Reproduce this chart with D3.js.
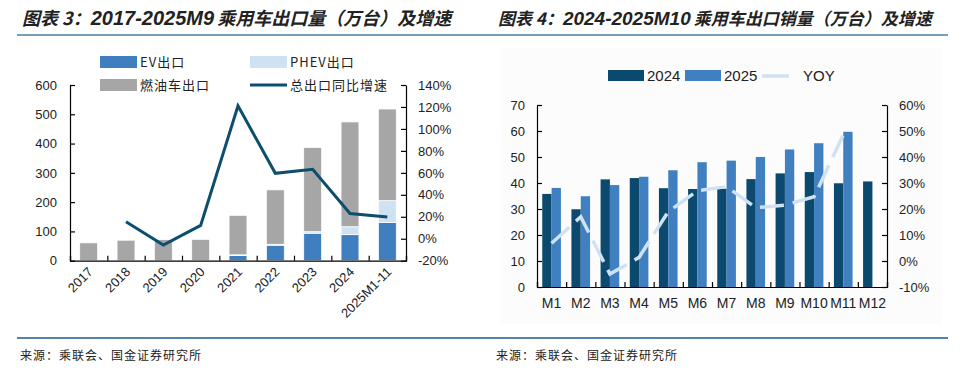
<!DOCTYPE html>
<html>
<head>
<meta charset="utf-8">
<script src="https://cdn.jsdelivr.net/npm/d3@7"></script>
<style>
  body { margin: 0; background: #fff; }
  text { font-family: "Liberation Sans", Arial, sans-serif; fill: #222; }
  .cjk { font-family: "Noto Sans CJK SC", sans-serif; }
</style>
</head>
<body>
<div id="chart"></div>
<script>
// ---- chart 3 data ----
var years = ["2017", "2018", "2019", "2020", "2021", "2022", "2023", "2024", "2025M1-11"];
var evExport = [0, 0, 0, 0, 18, 53, 94, 89, 131];
var phevExport = [0, 0, 0, 0, 2, 3, 5, 27, 74];
var iceExport = [61, 70, 72, 73, 135, 186, 288, 358, 313];
var totalYoy = [null, 15.5, -5.7, 12.2, 121, 59.6, 63.2, 23, 19.8];
var leftTicks = [0, 100, 200, 300, 400, 500, 600];
var leftPctTicks = [-20, 0, 20, 40, 60, 80, 100, 120, 140];

// ---- chart 4 data ----
var months = ["M1", "M2", "M3", "M4", "M5", "M6", "M7", "M8", "M9", "M10", "M11", "M12"];
var sales2024 = [35.8, 29.9, 41.4, 41.9, 38.0, 37.7, 37.8, 41.5, 43.7, 44.2, 39.9, 40.6];
var sales2025 = [38.1, 34.9, 39.2, 42.4, 44.9, 48.0, 48.6, 50.0, 52.9, 55.3, 59.7, null];
var yoy = [6.8, 17, -5, 1.4, 19, 27, 28.6, 20.5, 21.5, 24.7, 48.5, null];
var rightTicks = [0, 10, 20, 30, 40, 50, 60, 70];
var rightPctTicks = [-10, 0, 10, 20, 30, 40, 50, 60];

var W = 964, H = 368;
var cEV = "#3f7ebf", cPHEV = "#cfe2f3", cICE = "#a6a6a6", cLine = "#0d4e6e";
var c2024 = "#0b4a6e", c2025 = "#4080c0", cYoy = "#cfe2f3";

var svg = d3.select("#chart").append("svg")
  .attr("width", W).attr("height", H);

// titles: latin part a bit wider, as in the reference
function title(x, head, num, rest, size) {
  var t = svg.append("text").attr("class", "cjk")
    .attr("x", x).attr("y", 25)
    .attr("font-size", size).attr("font-weight", "bold").attr("font-style", "italic");
  t.append("tspan").text(head);
  t.append("tspan").attr("font-family", "Liberation Sans").attr("font-size", size + 2).text(num);
  t.append("tspan").attr("dx", 3).text(rest);
}
title(22, "图表 3：", "2017-2025M9", "乘用车出口量（万台）及增速", 18);
title(498, "图表 4：", "2024-2025M10", "乘用车出口销量（万台）及增速", 17);

svg.append("line").attr("x1", 17).attr("x2", 948).attr("y1", 35).attr("y2", 35)
  .attr("stroke", "#4a7fa5").attr("stroke-width", 1.5);
svg.append("line").attr("x1", 17).attr("x2", 948).attr("y1", 338).attr("y2", 338)
  .attr("stroke", "#1e5a8a").attr("stroke-width", 1.5);
[20, 496].forEach(function(x) {
  svg.append("text").attr("class", "cjk")
    .attr("x", x).attr("y", 360)
    .attr("font-size", 12)
    .attr("letter-spacing", 1)
    .text("来源：乘联会、国金证券研究所");
});

// ================= chart 3 =================
var l = {x0: 70, x1: 406, y0: 260.7, y1: 85};
var xL = d3.scaleBand().domain(years).range([l.x0, l.x1]).paddingInner(0.52).paddingOuter(0.26);
var yL = d3.scaleLinear().domain([0, 600]).range([l.y0, l.y1]);
var yLp = d3.scaleLinear().domain([-20, 140]).range([l.y0, l.y1]);

var stackData = years.map(function(y, i) {
  return {year: y, ev: evExport[i], phev: phevExport[i], ice: iceExport[i]};
});
var stack = d3.stack().keys(["ev", "phev", "ice"])(stackData);
var stackColor = {ev: cEV, phev: cPHEV, ice: cICE};

var g3 = svg.append("g");
g3.selectAll("g.layer")
  .data(stack)
  .join("g")
    .attr("class", "layer")
    .attr("fill", function(d) { return stackColor[d.key]; })
  .selectAll("rect")
  .data(function(d) { return d; })
  .join("rect")
    .attr("x", function(d) { return xL(d.data.year); })
    .attr("width", xL.bandwidth())
    .attr("y", function(d) { return yL(d[1]); })
    .attr("height", function(d) { return Math.max(0, yL(d[0]) - yL(d[1])); })
    .attr("stroke", "#fff")
    .attr("stroke-width", 0.8);

var lineL = d3.line()
  .defined(function(d) { return d != null; })
  .x(function(d, i) { return xL(years[i]) + xL.bandwidth() / 2; })
  .y(function(d) { return yLp(d); });
g3.append("path")
  .attr("d", lineL(totalYoy))
  .attr("fill", "none")
  .attr("stroke", cLine)
  .attr("stroke-width", 3);

// axes
g3.append("g").attr("transform", "translate(" + l.x0 + ",0)")
  .call(d3.axisLeft(yL).tickValues(leftTicks).tickSizeInner(-5).tickSizeOuter(0).tickPadding(13));
g3.append("g").attr("transform", "translate(" + l.x1 + ",0)")
  .call(d3.axisRight(yLp).tickValues(leftPctTicks).tickSizeInner(-5).tickSizeOuter(0).tickPadding(12)
    .tickFormat(function(d) { return d + "%"; }));
var xIdxL = d3.scaleLinear().domain([0, years.length]).range([l.x0, l.x1]);
g3.append("g").attr("transform", "translate(0," + l.y0 + ")")
  .call(d3.axisBottom(xIdxL).tickValues(d3.range(0, years.length + 1)).tickSize(-5).tickFormat(""));
g3.selectAll("text.xlab")
  .data(years)
  .join("text")
    .attr("class", "xlab")
    .attr("text-anchor", "end")
    .attr("transform", function(d) {
      return "translate(" + (xL(d) + xL.bandwidth() / 2 + 5) + "," + (l.y0 + 12) + ") rotate(-45)";
    })
    .attr("font-size", 13)
    .text(function(d) { return d; });

// legend
var legL = [
  {label: "EV出口", color: cEV, x: 100, y: 62, type: "rect"},
  {label: "PHEV出口", color: cPHEV, x: 250, y: 62, type: "rect"},
  {label: "燃油车出口", color: cICE, x: 100, y: 85, type: "rect"},
  {label: "总出口同比增速", color: cLine, x: 250, y: 85, type: "line"}
];
legL.forEach(function(d) {
  if (d.type === "rect") {
    svg.append("rect").attr("x", d.x).attr("y", d.y - 6).attr("width", 37).attr("height", 12).attr("fill", d.color);
  } else {
    svg.append("line").attr("x1", d.x).attr("x2", d.x + 37).attr("y1", d.y).attr("y2", d.y)
      .attr("stroke", d.color).attr("stroke-width", 3);
  }
  svg.append("text").attr("class", "cjk").attr("x", d.x + 40).attr("y", d.y + 5)
    .attr("font-size", 13).attr("letter-spacing", 1).text(d.label);
});

// ================= chart 4 =================
svg.append("rect").attr("x", 500).attr("y", 48).attr("width", 442).attr("height", 276)
  .attr("fill", "#fcfcfc");

var r = {x0: 537, x1: 887, y0: 287, y1: 105};
var xR = d3.scaleBand().domain(months).range([r.x0, r.x1]).paddingInner(0.36).paddingOuter(0.18);
var xSub = d3.scaleBand().domain(["2024", "2025"]).range([0, xR.bandwidth()]);
var yR = d3.scaleLinear().domain([0, 70]).range([r.y0, r.y1]);
var yRp = d3.scaleLinear().domain([-10, 60]).range([r.y0, r.y1]);

var g4 = svg.append("g");
var monthData = months.map(function(m, i) {
  return {m: m, vals: [{k: "2024", v: sales2024[i]}, {k: "2025", v: sales2025[i]}]};
});
g4.selectAll("g.month")
  .data(monthData)
  .join("g")
    .attr("class", "month")
    .attr("transform", function(d) { return "translate(" + xR(d.m) + ",0)"; })
  .selectAll("rect")
  .data(function(d) { return d.vals.filter(function(v) { return v.v != null; }); })
  .join("rect")
    .attr("x", function(d) { return xSub(d.k); })
    .attr("width", xSub.bandwidth())
    .attr("y", function(d) { return yR(d.v); })
    .attr("height", function(d) { return r.y0 - yR(d.v); })
    .attr("fill", function(d) { return d.k === "2024" ? c2024 : c2025; });

var lineR = d3.line()
  .defined(function(d) { return d != null; })
  .x(function(d, i) { return xR(months[i]) + xR.bandwidth() / 2; })
  .y(function(d) { return yRp(d); });
g4.append("path")
  .attr("d", lineR(yoy))
  .attr("fill", "none")
  .attr("stroke", cYoy)
  .attr("stroke-width", 3.5)
  .attr("stroke-dasharray", "24,9");

g4.append("g").attr("transform", "translate(" + r.x0 + ",0)")
  .call(d3.axisLeft(yR).tickValues(rightTicks).tickSizeInner(-5).tickSizeOuter(0).tickPadding(12));
g4.append("g").attr("transform", "translate(" + r.x1 + ",0)")
  .call(d3.axisRight(yRp).tickValues(rightPctTicks).tickSizeInner(-5).tickSizeOuter(0).tickPadding(12)
    .tickFormat(function(d) { return d + "%"; }));
var xIdxR = d3.scaleLinear().domain([0, months.length]).range([r.x0, r.x1]);
g4.append("g").attr("transform", "translate(0," + r.y0 + ")")
  .call(d3.axisBottom(xIdxR).tickValues(d3.range(0, months.length + 1)).tickSize(-5).tickFormat(""));
g4.selectAll("text.mlab")
  .data(months)
  .join("text")
    .attr("class", "mlab")
    .attr("x", function(d) { return xR(d) + xR.bandwidth() / 2; })
    .attr("y", 308)
    .attr("text-anchor", "middle")
    .attr("font-size", 14)
    .text(function(d) { return d; });

// legend
var legR = [
  {label: "2024", color: c2024, x: 608, type: "rect"},
  {label: "2025", color: c2025, x: 685, type: "rect"},
  {label: "YOY", color: cYoy, x: 762, type: "line"}
];
legR.forEach(function(d) {
  if (d.type === "rect") {
    svg.append("rect").attr("x", d.x).attr("y", 70).attr("width", 36).attr("height", 11).attr("fill", d.color);
    svg.append("text").attr("x", d.x + 39).attr("y", 81).attr("font-size", 15).text(d.label);
  } else {
    svg.append("line").attr("x1", d.x).attr("x2", d.x + 27).attr("y1", 76).attr("y2", 76)
      .attr("stroke", d.color).attr("stroke-width", 3.5);
    svg.append("text").attr("x", d.x + 41).attr("y", 81).attr("font-size", 15).text(d.label);
  }
});

// axis styling
svg.selectAll(".domain, .tick line").attr("stroke", "#000").attr("stroke-width", 1.2);
svg.selectAll(".tick text").attr("font-size", 13).attr("fill", "#222");
</script>
</body>
</html>
